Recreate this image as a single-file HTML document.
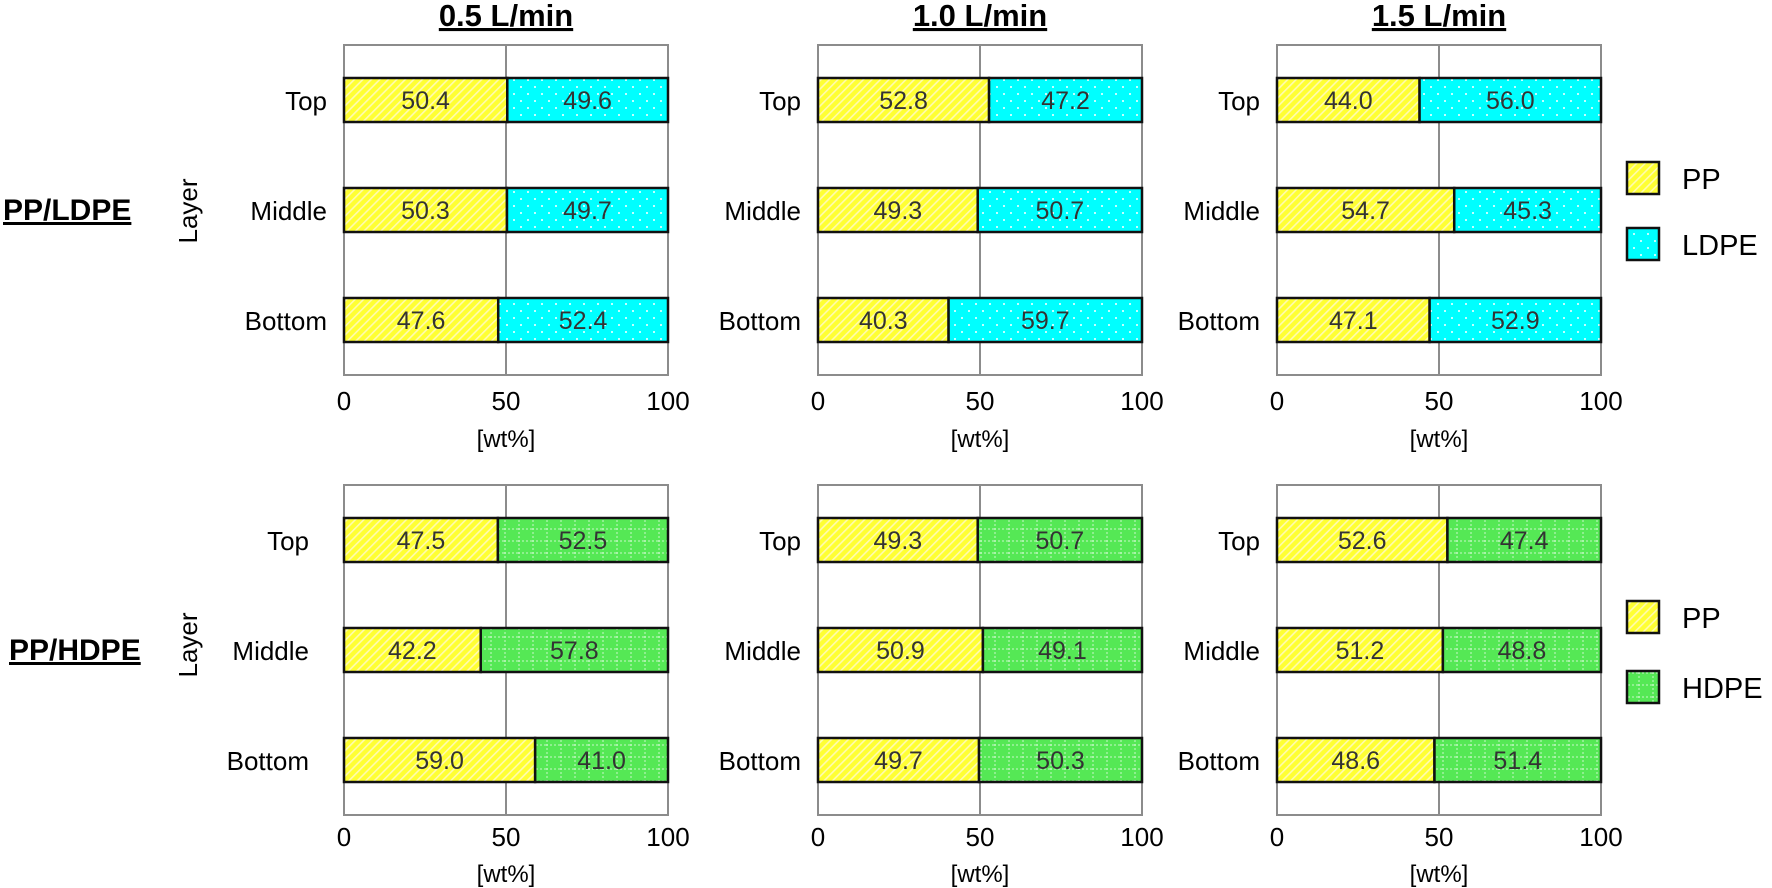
<!DOCTYPE html>
<html><head><meta charset="utf-8">
<style>
html,body{margin:0;padding:0;background:#fff;}
svg{display:block;font-family:"Liberation Sans",Arial,sans-serif;}
</style></head>
<body>
<svg id="chart" width="1772" height="888" viewBox="0 0 1772 888" xmlns="http://www.w3.org/2000/svg">
<defs>
<pattern id="pp" width="6" height="6" patternUnits="userSpaceOnUse" patternTransform="rotate(-45)">
<rect width="6" height="6" fill="#ffff33"/><rect width="6" height="1.6" fill="#fffbb0"/>
</pattern>
<pattern id="ld" width="14" height="14" patternUnits="userSpaceOnUse">
<rect width="14" height="14" fill="#00ffff"/><circle cx="3" cy="3" r="1" fill="#fff"/><circle cx="10" cy="10" r="1" fill="#fff"/>
</pattern>
<pattern id="hd" width="14" height="12" patternUnits="userSpaceOnUse">
<rect width="14" height="12" fill="#55e855"/>
<line x1="0" y1="1" x2="14" y2="1" stroke="#c8f8c8" stroke-width="1" stroke-dasharray="2,2"/>
<line x1="1" y1="0" x2="1" y2="12" stroke="#c8f8c8" stroke-width="1" stroke-dasharray="2,2"/>
</pattern>
</defs>
<g id="root"></g>
</svg>
<script>
const flowRates = ["0.5 L/min","1.0 L/min","1.5 L/min"];
const layers = ["Top","Middle","Bottom"];
const ppLdpe = [[50.4,50.3,47.6],[52.8,49.3,40.3],[44.0,54.7,47.1]];
const ldpe = [[49.6,49.7,52.4],[47.2,50.7,59.7],[56.0,45.3,52.9]];
const ppHdpe = [[47.5,42.2,59.0],[49.3,50.9,49.7],[52.6,51.2,48.6]];
const hdpe = [[52.5,57.8,41.0],[50.7,49.1,50.3],[47.4,48.8,51.4]];
const xTicks = [0,50,100];

const NS="http://www.w3.org/2000/svg";
const root=document.getElementById('root');
function mk(tag,attrs,parent,text){const e=document.createElementNS(NS,tag);for(const k in attrs)e.setAttribute(k,attrs[k]);if(text!==undefined)e.textContent=text;(parent||root).appendChild(e);return e;}

const panelLeft=[344,818,1277], panelW=324;
const rows=[{top:45,bot:375,bars:[78,188,298],a:ppLdpe,b:ldpe,fill:"url(#ld)",name:"ldpe",tickY:410,labY:447,rowLabX:3,rowLabY:220,layerY:211,firstCatOff:17},
            {top:485,bot:815,bars:[518,628,738],a:ppHdpe,b:hdpe,fill:"url(#hd)",name:"hdpe",tickY:846,labY:882,rowLabX:9,rowLabY:660,layerY:645,firstCatOff:35}];
const barH=44;

flowRates.forEach((t,i)=>{
  const cx=panelLeft[i]+panelW/2;
  const tx=mk('text',{x:cx,y:26,'text-anchor':'middle','font-size':31,'font-weight':'bold','text-decoration':'underline',fill:'#000'},root,t);
  
  
});

rows.forEach((r,ri)=>{
  for(let p=0;p<3;p++){
    const L=panelLeft[p];
    const x=v=>L+v/100*panelW;
    const g=mk('g',{});
    
    
    const box=mk('rect',{x:L,y:r.top,width:panelW,height:r.bot-r.top,fill:'#fff',stroke:'#8c8c8c','stroke-width':2},g);
    
    
    const gl=mk('line',{x1:x(50),x2:x(50),y1:r.top,y2:r.bot,stroke:'#8c8c8c','stroke-width':2},g);
    
    
    const catOff = p===0 ? r.firstCatOff : 17;
    layers.forEach((lay,li)=>{
      const y=r.bars[li];
      const va=r.a[p][li], vb=r.b[p][li];
      const ra=mk('rect',{x:x(0),y:y,width:x(va)-x(0),height:barH,fill:'url(#pp)',stroke:'#111','stroke-width':2.5},g);
      
      
      const rb=mk('rect',{x:x(va),y:y,width:x(va+vb)-x(va),height:barH,fill:r.fill,stroke:'#111','stroke-width':2.5},g);
      
      
      const ta=mk('text',{x:(x(0)+x(va))/2,y:y+barH/2+9,'text-anchor':'middle','font-size':25,fill:'#333'},g,va.toFixed(1));
      
      
      const tb=mk('text',{x:(x(va)+x(va+vb))/2,y:y+barH/2+9,'text-anchor':'middle','font-size':25,fill:'#333'},g,vb.toFixed(1));
      
      
      const cl=mk('text',{x:L-catOff,y:y+barH/2+10,'text-anchor':'end','font-size':26,fill:'#000'},g,lay);
      
      
    });
    xTicks.forEach(v=>{
      const tk=mk('text',{x:x(v),y:r.tickY,'text-anchor':'middle','font-size':26,fill:'#000'},g,String(v));
      
      
    });
    const xl=mk('text',{x:x(50),y:r.labY,'text-anchor':'middle','font-size':24,fill:'#000'},g,'[wt%]');
    
    
  }
  const yl=mk('text',{x:0,y:0,'text-anchor':'middle','font-size':26,fill:'#000',transform:`translate(197,${r.layerY}) rotate(-90)`},root,'Layer');
  
  
  const rl=mk('text',{x:r.rowLabX,y:r.rowLabY,'font-size':30,'font-weight':'bold','text-decoration':'underline',fill:'#000'},root,ri?'PP/HDPE':'PP/LDPE');
  
  
  const ly=ri?601:162;
  const entries=[['url(#pp)','PP'],[r.fill,ri?'HDPE':'LDPE']];
  entries.forEach((e,ei)=>{
    const yy=ly+ei*(ri?70:66);
    const lb=mk('rect',{x:1627,y:yy,width:32,height:32,fill:e[0],stroke:'#111','stroke-width':2.5});
    
    
    const lt=mk('text',{x:1682,y:yy+27,'font-size':29,fill:'#000'},root,e[1]);
    
    
  });
});
</script>
</body></html>
